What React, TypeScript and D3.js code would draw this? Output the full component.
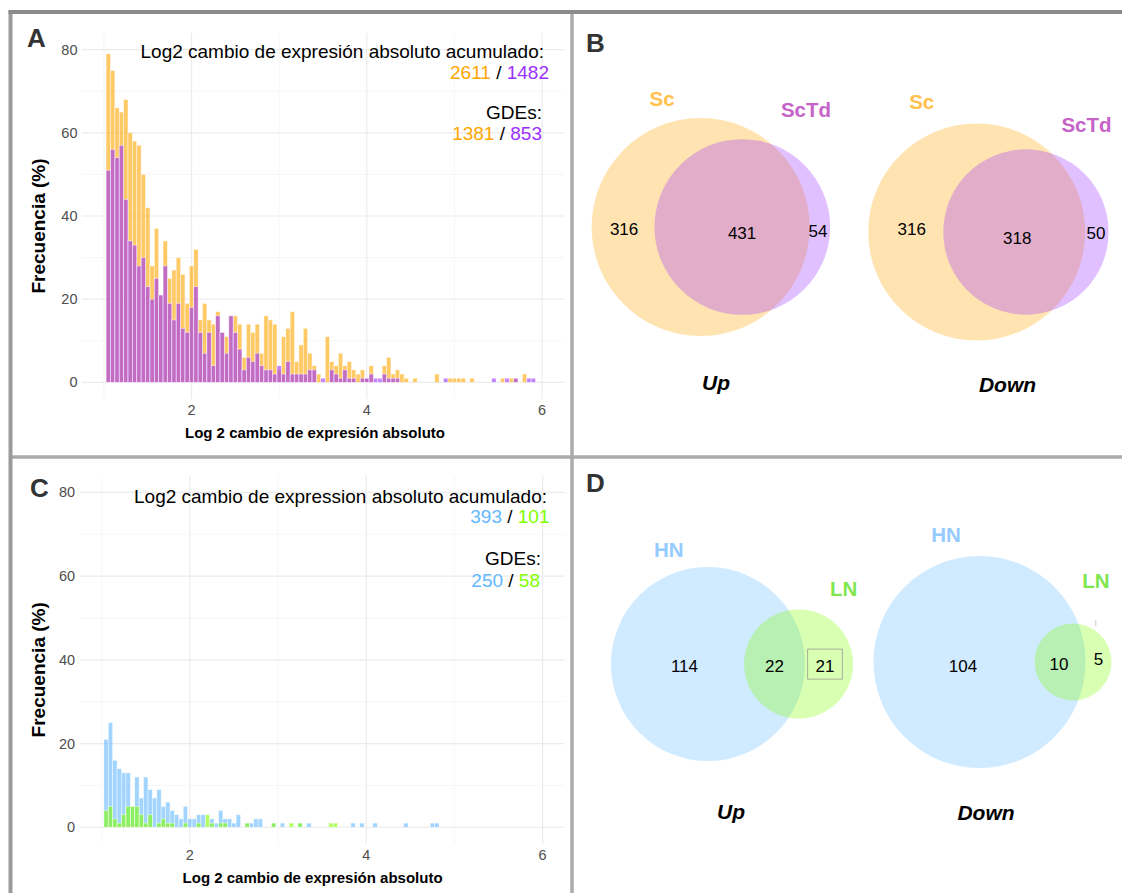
import React from 'react';
import * as d3 from 'd3';

// Histogram bins of absolute log2 fold change: width 0.05, first bin starts at 1.025
const BIN_START = 1.025;
const BIN_WIDTH = 0.05;

// Panel A: differentially expressed genes per bin, Sc (back) and ScTd (front)
const scCounts = [
  79, 75, 66, 65, 68, 60, 58, 57, 50, 42,
  28, 37, 21, 34, 25, 27, 30, 26, 19, 28,
  32, 15, 19, 15, 14, 17, 12, 11, 16, 16,
  14, 6, 14, 12, 14, 7, 16, 15, 14, 3,
  11, 13, 17, 5, 9, 13, 7, 4, 2, 0,
  11, 5, 4, 7, 4, 5, 3, 2, 3, 1,
  4, 0, 0, 4, 6, 2, 3, 2, 1, 0,
  1, 0, 0, 0, 0, 2, 0, 0, 1, 1,
  1, 1, 0, 1, 0, 0, 0, 0, 0, 0,
  1, 0, 1, 1, 0, 2, 0, 0,
];
const sctdCounts = [
  51, 56, 54, 57, 44, 34, 33, 28, 30, 23,
  20, 25, 21, 28, 19, 15, 19, 13, 12, 18,
  23, 12, 7, 12, 4, 16, 12, 7, 16, 12,
  8, 3, 6, 5, 7, 4, 3, 3, 2, 4,
  2, 5, 2, 2, 2, 2, 3, 3, 0, 1,
  0, 3, 2, 1, 3, 1, 1, 0, 1, 1,
  2, 1, 1, 2, 1, 1, 1, 0, 0, 0,
  0, 0, 0, 0, 0, 0, 0, 1, 0, 0,
  0, 0, 0, 0, 0, 0, 0, 0, 1, 0,
  0, 1, 0, 1, 0, 0, 1, 1,
];

// Panel C: HN (back) and LN (front)
const hnCounts = [
  21, 25, 16, 14, 13, 13, 5, 12, 7, 12,
  9, 7, 9, 5, 6, 4, 3, 2, 5, 2,
  2, 3, 3, 0, 2, 1, 4, 2, 2, 1,
  3, 0, 1, 1, 2, 2, 0, 0, 1, 0,
  1, 0, 0, 0, 1, 0, 1, 0, 0, 0,
  0, 0, 0, 0, 0, 0, 1, 0, 1, 0,
  0, 1, 0, 0, 0, 0, 0, 0, 1, 0,
  0, 0, 0, 0, 1, 1,
];
const lnCounts = [
  4, 5, 2, 1, 3, 5, 5, 5, 3, 1,
  3, 0, 1, 2, 1, 1, 0, 0, 1, 0,
  0, 1, 0, 3, 1, 0, 1, 1, 0, 0,
  0, 0, 1, 0, 0, 0, 0, 0, 1, 0,
  0, 0, 1, 0, 1, 0, 0, 0, 0, 0,
  0, 1, 1, 0, 0, 0, 0, 0, 0, 0,
];

// Axis ticks
const xMajorTicks = [2, 4, 6];
const xMinorTicks = [1, 3, 5];
const yMajorTicks = [0, 20, 40, 60, 80];
const yMinorTicks = [10, 30, 50, 70];

// Summary annotations [back group, front group]
const summedLfcA = [2611, 1482];
const degTotalsA = [1381, 853];
const summedLfcC = [393, 101];
const degTotalsC = [250, 58];

// Venn counts: [only first set, shared, only second set]
const setsB = ['Sc', 'ScTd'];
const vennUpB = [316, 431, 54];
const vennDownB = [316, 318, 50];
const setsD = ['HN', 'LN'];
const vennUpD = [114, 22, 21];
const vennDownD = [104, 10, 5];
const vennTitles = ['Up', 'Down'];

const ORANGE = '#FFA500';
const PURPLE = '#9B30FF';
const BLUE = '#63B8FF';
const GREEN = '#7FFF00';

const FONT = "'Liberation Sans', Arial, Helvetica, sans-serif";

type Frame = { left: number; right: number; top: number; bottom: number };

type AnnLine = { x: number; y: number; parts: { text: string; color: string }[] };

function Histogram(props: {
  frame: Frame;
  back: number[];
  front: number[];
  backColor: string;
  frontColor: string;
  lines: AnnLine[];
}) {
  const { frame, back, front, backColor, frontColor, lines } = props;
  const x = d3.scaleLinear().domain([0.75, 6.25]).range([frame.left, frame.right]);
  const y = d3.scaleLinear().domain([-4, 84]).range([frame.bottom, frame.top]);

  const bars = (counts: number[], color: string, key: string) =>
    counts.map((c, k) => {
      if (c <= 0) return null;
      const x0 = BIN_START + k * BIN_WIDTH;
      const px = x(x0);
      const w = x(x0 + BIN_WIDTH) - px;
      return (
        <rect
          key={`${key}${k}`}
          x={px}
          y={y(c)}
          width={w}
          height={y(0) - y(c)}
          fill={color}
          fillOpacity={0.6}
          stroke="#ffffff"
          strokeOpacity={0.65}
          strokeWidth={0.7}
        />
      );
    });

  const midY = (frame.top + frame.bottom) / 2;

  return (
    <g>
      {yMinorTicks.map((t) => (
        <line key={`ym${t}`} x1={frame.left} x2={frame.right} y1={y(t)} y2={y(t)} stroke="#F2F2F2" strokeWidth={0.7} />
      ))}
      {xMinorTicks.map((t) => (
        <line key={`xm${t}`} x1={x(t)} x2={x(t)} y1={frame.top} y2={frame.bottom} stroke="#F2F2F2" strokeWidth={0.7} />
      ))}
      {yMajorTicks.map((t) => (
        <line key={`yM${t}`} x1={frame.left} x2={frame.right} y1={y(t)} y2={y(t)} stroke="#EBEBEB" strokeWidth={1.2} />
      ))}
      {xMajorTicks.map((t) => (
        <line key={`xM${t}`} x1={x(t)} x2={x(t)} y1={frame.top} y2={frame.bottom} stroke="#EBEBEB" strokeWidth={1.2} />
      ))}
      {bars(back, backColor, 'b')}
      {bars(front, frontColor, 'f')}
      {yMajorTicks.map((t) => (
        <text key={`yl${t}`} x={frame.left - 4.5} y={y(t) + 5} textAnchor="end" fontSize={14.5} fill="#4D4D4D" fontFamily={FONT}>
          {t}
        </text>
      ))}
      {xMajorTicks.map((t) => (
        <text key={`xl${t}`} x={x(t)} y={frame.bottom + 15.5} textAnchor="middle" fontSize={14.5} fill="#4D4D4D" fontFamily={FONT}>
          {t}
        </text>
      ))}
      <text
        x={frame.left + 233}
        y={frame.bottom + 38.5}
        textAnchor="middle"
        fontSize={15}
        fontWeight="bold"
        fill="#000"
        fontFamily={FONT}
      >
        Log 2 cambio de expresión absoluto
      </text>
      <text
        transform={`translate(45,${midY + 10}) rotate(-90)`}
        textAnchor="middle"
        fontSize={19}
        fontWeight="bold"
        fill="#000"
        fontFamily={FONT}
      >
        Frecuencia (%)
      </text>
      {lines.map((ln, i) => (
        <text key={`ann${i}`} x={ln.x} y={ln.y} textAnchor="end" fontSize={19} fontFamily={FONT}>
          {ln.parts.map((p, j) => (
            <tspan key={j} fill={p.color}>
              {p.text}
            </tspan>
          ))}
        </text>
      ))}
    </g>
  );
}

// Area of the lens formed by two circles with radii r1, r2 whose centres are d apart
function lensArea(r1: number, r2: number, d: number) {
  if (d >= r1 + r2) return 0;
  if (d <= Math.abs(r1 - r2)) return Math.PI * Math.min(r1, r2) ** 2;
  const a1 = Math.acos((d * d + r1 * r1 - r2 * r2) / (2 * d * r1));
  const a2 = Math.acos((d * d + r2 * r2 - r1 * r1) / (2 * d * r2));
  const k = Math.sqrt((-d + r1 + r2) * (d + r1 - r2) * (d - r1 + r2) * (d + r1 + r2));
  return r1 * r1 * a1 + r2 * r2 * a2 - 0.5 * k;
}

function centreDistance(r1: number, r2: number, target: number) {
  let lo = Math.abs(r1 - r2);
  let hi = r1 + r2;
  for (let i = 0; i < 60; i++) {
    const mid = (lo + hi) / 2;
    if (lensArea(r1, r2, mid) > target) lo = mid;
    else hi = mid;
  }
  return (lo + hi) / 2;
}

function Venn(props: {
  cx: number;
  cy: number;
  R: number;
  counts: number[];
  sets: string[];
  fills: string[];
  labelColors: string[];
  setLabelPos: [number, number][];
  numDx: number[];
  numDy: number[];
  title: string;
  titlePos: [number, number];
  boxed?: number;
}) {
  const { cx, cy, R, counts, sets, fills, labelColors, setLabelPos, numDx, numDy, title, titlePos, boxed } = props;
  const totalA = counts[0] + counts[1];
  const totalB = counts[1] + counts[2];
  const rScale = d3.scaleSqrt().domain([0, totalA]).range([0, R]);
  const r1 = rScale(totalA);
  const r2 = rScale(totalB);
  const target = (Math.PI * r1 * r1 * counts[1]) / totalA;
  const d = centreDistance(r1, r2, target);
  const c1x = cx - (d + r2 - r1) / 2;
  const c2x = c1x + d;

  const mids = [
    (c1x - r1 + (c2x - r2)) / 2,
    (c2x - r2 + (c1x + r1)) / 2,
    (c1x + r1 + (c2x + r2)) / 2,
  ];

  return (
    <g fontFamily={FONT}>
      <circle cx={c1x} cy={cy} r={r1} fill={fills[0]} fillOpacity={0.3} />
      <circle cx={c2x} cy={cy} r={r2} fill={fills[1]} fillOpacity={0.3} />
      {counts.map((c, i) => {
        const lx = mids[i] + numDx[i];
        const ly = cy + numDy[i];
        return (
          <g key={`n${i}`}>
            {boxed === i && (
              <rect x={lx - 17.3} y={ly - 22.4} width={34.6} height={30} fill="none" stroke="#9a9a9a" strokeWidth={0.8} />
            )}
            <text x={lx} y={ly} textAnchor="middle" fontSize={17} fill="#000">
              {c}
            </text>
          </g>
        );
      })}
      {sets.map((s, i) => (
        <text
          key={`s${i}`}
          x={setLabelPos[i][0]}
          y={setLabelPos[i][1]}
          textAnchor="middle"
          fontSize={20.5}
          fontWeight="bold"
          fill={labelColors[i]}
        >
          {s}
        </text>
      ))}
      <text x={titlePos[0]} y={titlePos[1]} textAnchor="middle" fontSize={21} fontWeight="bold" fontStyle="italic" fill="#000">
        {title}
      </text>
    </g>
  );
}

const panelLabel = (t: string, x: number, y: number) => (
  <text x={x} y={y} fontSize={26} fontWeight="bold" fill="#333333" fontFamily={FONT}>
    {t}
  </text>
);

export default function App() {
  const frameA: Frame = { left: 82, right: 564, top: 33, bottom: 399 };
  const frameC: Frame = { left: 79.6, right: 564.7, top: 475.6, bottom: 844 };

  const linesA: AnnLine[] = [
    { x: 544, y: 58, parts: [{ text: 'Log2 cambio de expresión absoluto acumulado:', color: '#000' }] },
    {
      x: 549,
      y: 79,
      parts: [
        { text: String(summedLfcA[0]), color: ORANGE },
        { text: ' / ', color: '#000' },
        { text: String(summedLfcA[1]), color: PURPLE },
      ],
    },
    { x: 542, y: 119, parts: [{ text: 'GDEs:', color: '#000' }] },
    {
      x: 542,
      y: 140,
      parts: [
        { text: String(degTotalsA[0]), color: ORANGE },
        { text: ' / ', color: '#000' },
        { text: String(degTotalsA[1]), color: PURPLE },
      ],
    },
  ];

  const linesC: AnnLine[] = [
    { x: 547, y: 502.5, parts: [{ text: 'Log2 cambio de expression absoluto acumulado:', color: '#000' }] },
    {
      x: 549.5,
      y: 523,
      parts: [
        { text: String(summedLfcC[0]), color: BLUE },
        { text: ' / ', color: '#000' },
        { text: String(summedLfcC[1]), color: GREEN },
      ],
    },
    { x: 541, y: 565, parts: [{ text: 'GDEs:', color: '#000' }] },
    {
      x: 540,
      y: 587,
      parts: [
        { text: String(degTotalsC[0]), color: BLUE },
        { text: ' / ', color: '#000' },
        { text: String(degTotalsC[1]), color: GREEN },
      ],
    },
  ];

  const scLabel = '#FFC04D';
  const sctdLabel = '#C563C8';
  const hnLabel = '#95CBFF';
  const lnLabel = '#80E650';

  return (
    <svg
      width={1122}
      height={893}
      viewBox="0 0 1122 893"
      style={{ position: 'absolute', left: 0, top: 0, background: '#ffffff' }}
    >
      <rect x={0} y={0} width={1122} height={893} fill="#ffffff" />

      <Histogram frame={frameA} back={scCounts} front={sctdCounts} backColor={ORANGE} frontColor={PURPLE} lines={linesA} />
      <Histogram frame={frameC} back={hnCounts} front={lnCounts} backColor={BLUE} frontColor={GREEN} lines={linesC} />

      <Venn
        cx={710.9}
        cy={227}
        R={109}
        counts={vennUpB}
        sets={setsB}
        fills={[ORANGE, PURPLE]}
        labelColors={[scLabel, sctdLabel]}
        setLabelPos={[[662, 106], [806, 116.5]]}
        numDx={[1, 10, -2]}
        numDy={[8, 12, 10]}
        title={vennTitles[0]}
        titlePos={[716, 390]}
      />
      <Venn
        cx={988.4}
        cy={232}
        R={108.5}
        counts={vennDownB}
        sets={setsB}
        fills={[ORANGE, PURPLE]}
        labelColors={[scLabel, sctdLabel]}
        setLabelPos={[[921.7, 109], [1086.5, 132]]}
        numDx={[6, 3, -1]}
        numDy={[3, 12, 7]}
        title={vennTitles[1]}
        titlePos={[1007.5, 392]}
      />
      <Venn
        cx={732}
        cy={664}
        R={97}
        counts={vennUpD}
        sets={setsD}
        fills={[BLUE, GREEN]}
        labelColors={[hnLabel, lnLabel]}
        setLabelPos={[[668.7, 556.5], [843.6, 596]]}
        numDx={[7, 0, -4]}
        numDy={[7.5, 7.5, 7.5]}
        title={vennTitles[0]}
        titlePos={[731, 819]}
        boxed={2}
      />
      <Venn
        cx={992.5}
        cy={662}
        R={106}
        counts={vennDownD}
        sets={setsD}
        fills={[BLUE, GREEN]}
        labelColors={[hnLabel, lnLabel]}
        setLabelPos={[[946, 541.5], [1096, 587.5]]}
        numDx={[9, -1, 0]}
        numDy={[9.5, 8, 3]}
        title={vennTitles[1]}
        titlePos={[986, 820]}
      />
      <line x1={1095.8} x2={1095.8} y1={620} y2={626} stroke="#c8c8c8" strokeWidth={1} />

      {panelLabel('A', 27, 47)}
      {panelLabel('B', 586, 52)}
      {panelLabel('C', 30, 497)}
      {panelLabel('D', 586, 492)}

      {/* panel frames */}
      <line x1={572} x2={572} y1={12} y2={893} stroke="#ababab" strokeWidth={3.5} />
      <line x1={10} x2={1122} y1={457} y2={457} stroke="#ababab" strokeWidth={3.5} />
      <line x1={10.5} x2={10.5} y1={10} y2={893} stroke="#9a9a9a" strokeWidth={4} />
      <line x1={8.5} x2={1122} y1={12} y2={12} stroke="#8a8a8a" strokeWidth={4} />
    </svg>
  );
}
